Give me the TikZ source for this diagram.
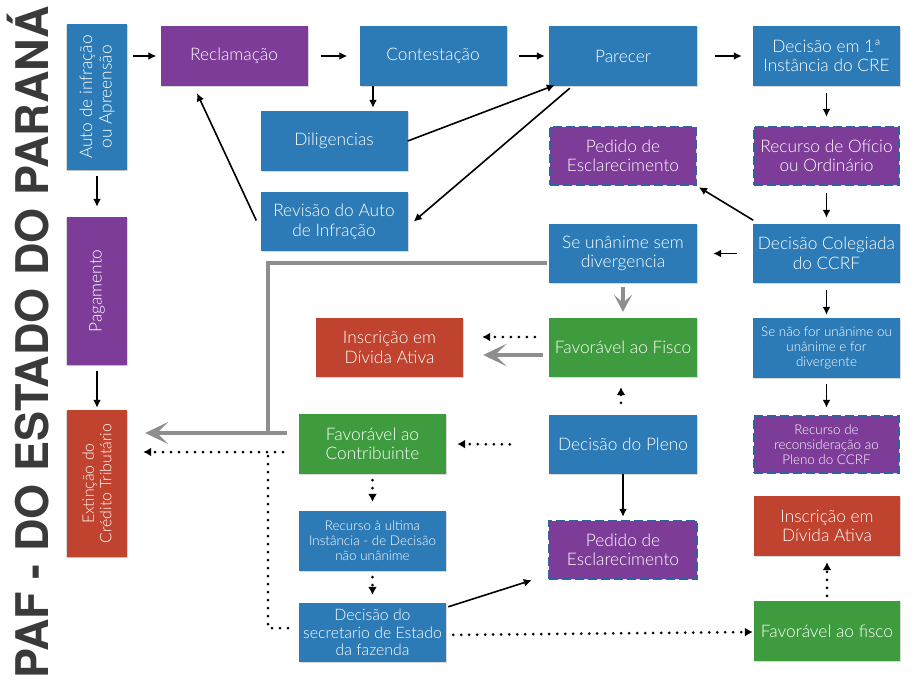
\documentclass[tikz,border=0pt]{standalone}
\usepackage{fontspec}
\setmainfont{Lato Light}
\newfontfamily\titlefont{TeX Gyre Heros}
\usetikzlibrary{arrows.meta,shadows}
\definecolor{bblue}{HTML}{2D7BB6}
\definecolor{bpurple}{HTML}{7D3C98}
\definecolor{bgreen}{HTML}{3E9B3E}
\definecolor{bred}{HTML}{C0432F}
\definecolor{dashblue}{HTML}{3062A0}
\definecolor{titlegray}{HTML}{3A3A3A}
\definecolor{arrgray}{HTML}{8E8E8E}
\begin{document}
\begin{tikzpicture}[x=1pt,y=-1pt,
  box/.style={draw=none,text=white,align=center,minimum width=147pt,minimum height=60pt,
    inner sep=1pt,font=\fontsize{17.3}{19.5}\selectfont,
    drop shadow={shadow xshift=1pt,shadow yshift=-1.2pt,opacity=0.3}},
  vbox/.style={box,rotate=90,minimum height=60pt,
    drop shadow={shadow xshift=-1.2pt,shadow yshift=-1pt,opacity=0.3}},
  bluebox/.style={box,fill=bblue},
  purplebox/.style={box,fill=bpurple},
  greenbox/.style={box,fill=bgreen},
  redbox/.style={box,fill=bred},
  dashbox/.style={box,fill=bpurple,draw=dashblue,line width=2.4pt,dash pattern=on 9pt off 4pt},
  small/.style={font=\fontsize{13.4}{15}\selectfont},
  mid/.style={font=\fontsize{15.8}{17.5}\selectfont},
  arr/.style={-{Latex[length=8pt,width=8pt]},line width=1.6pt},
  dotarr/.style={-{Latex[length=8pt,width=9pt]},line width=3pt,line cap=round,dash pattern=on 0pt off 8pt},
  dotline/.style={line width=3pt,line cap=round,dash pattern=on 0pt off 8pt},
  grayarr/.style={-{Stealth[length=23pt,width=22pt,inset=11pt]},line width=4pt,draw=arrgray},
  grayline/.style={line width=4pt,draw=arrgray}]
\useasboundingbox (0,0) rectangle (914,688);

\node[rotate=90,anchor=base west,inner sep=0pt,text=titlegray,
  font=\titlefont\bfseries\fontsize{45}{45}\selectfont] (title) at (48,679) {PAF - DO ESTADO DO PARANÁ};

% nodes
\node[vbox,fill=bblue,minimum width=146pt] (auto) at (97,97) {Auto de infração\\ou Apreensão};
\node[purplebox] (recl) at (234,56) {Reclamação};
\node[bluebox] (cont) at (433,56) {Contestação};
\node[bluebox,minimum width=148pt] (par) at (623,56) {Parecer};
\node[bluebox] (dec1) at (826.5,56) {Decisão em 1ª\\Instância do CRE};
\node[bluebox] (dil) at (334,141) {Diligencias};
\node[bluebox,minimum height=59pt] (rev) at (334,221.5) {Revisão do Auto\\de Infração};
\node[dashbox,minimum width=146pt,minimum height=58pt] (ped1) at (623,156) {Pedido de\\Esclarecimento};
\node[dashbox,minimum width=145pt,minimum height=58pt] (rof) at (826.5,156) {Recurso de Ofício\\ou Ordinário};
\node[bluebox,minimum width=148pt,minimum height=59pt] (seun) at (623,253.5) {Se unânime sem\\divergencia};
\node[bluebox,minimum height=59pt] (dcol) at (826.5,253.5) {Decisão Colegiada\\do CCRF};
\node[vbox,fill=bpurple,minimum width=148pt] (pag) at (97,291) {Pagamento};
\node[vbox,fill=bred,minimum width=147pt,mid] (ext) at (97,483.5) {Extinção do\\Crédito Tributário};
\node[redbox,minimum height=59pt] (insL) at (389.5,347.5) {Inscrição em\\Dívida Ativa};
\node[greenbox,minimum width=148pt,minimum height=59pt] (fisco) at (623,347.5) {Favorável ao Fisco};
\node[bluebox,small] (senao) at (826.5,348) {Se não for unânime ou\\unânime e for\\divergente};
\node[greenbox] (favc) at (372.5,444) {Favorável ao\\Contribuinte};
\node[bluebox,minimum width=148pt,minimum height=59pt] (pleno) at (623,444.5) {Decisão do Pleno};
\node[dashbox,small,minimum width=145pt,minimum height=57pt] (rrec) at (826.5,444.5) {Recurso de\\reconsideração ao\\Pleno do CCRF};
\node[bluebox,small] (rult) at (372.5,541) {Recurso à ultima\\Instância - de Decisão\\não unânime};
\node[dashbox,minimum width=148pt,minimum height=58pt] (ped2) at (623,550) {Pedido de\\Esclarecimento};
\node[redbox,minimum width=146pt] (insR) at (827,526) {Inscrição em\\Dívida Ativa};
\node[bluebox,mid,minimum height=59pt] (sec) at (372.5,632.5) {Decisão do\\secretario de Estado\\da fazenda};
\node[greenbox,minimum width=146pt] (fisco2) at (827,631) {Favorável ao fisco};

% solid arrows
\draw[arr,shorten <=6pt,shorten >=4pt] (auto.south |- recl) -- (recl.west);
\draw[arr,shorten <=13pt,shorten >=12pt] (recl.east) -- (cont.west);
\draw[arr,shorten <=12pt,shorten >=4pt] (cont.east) -- (par.west);
\draw[arr,shorten <=18pt,shorten >=11pt] (par.east) -- (dec1.west);
\draw[arr,shorten >=3pt] ([xshift=-60pt]cont.south) -- ([xshift=-60pt]cont.south |- dil.north);
\draw[arr] (dil.east) -- ([shift={(6,-1)}]par.south west);
\draw[arr] ([shift={(21,2)}]par.south west) -- ([xshift=6pt]rev.east);
\draw[arr] ([shift={(-4,-1)}]rev.west) -- ([shift={(-37,7)}]recl.south);
\draw[arr,shorten <=7pt,shorten >=9pt] (dec1.south) -- (rof.north);
\draw[arr,shorten <=7pt,shorten >=6pt] (rof.south) -- (dcol.north);
\draw[arr,shorten <=3pt,shorten >=2pt] ([shift={(3,-2)}]dcol.north west) -- (ped1.south east);
\draw[arr,shorten <=16pt,shorten >=16pt] (dcol.west) -- (seun.east);
\draw[arr,shorten <=7pt,shorten >=3pt] (dcol.south) -- (senao.north);
\draw[arr,shorten <=6pt,shorten >=7pt] (senao.south) -- (rrec.north);
\draw[arr,shorten <=6pt,shorten >=10pt] (auto.west) -- (pag.east);
\draw[arr,shorten <=6pt,shorten >=2pt] (pag.west) -- (ext.east);
\draw[arr,shorten >=3pt] (pleno.south) -- (ped2.north);
\draw[arr] ([shift={(2,4)}]sec.north east) -- ([xshift=-16pt]ped2.south west);

% gray arrows
\draw[grayarr,-{Stealth[length=17pt,width=18pt,inset=8pt]},shorten <=4pt,shorten >=6pt] (seun.south) -- (fisco.north);
\coordinate (gj) at (268,433);
\coordinate (gs) at (287,433);
\draw[grayline] ([shift={(-2,9)}]seun.west) -| (gj);
\draw[grayarr,shorten >=18pt] (gs) -- (ext.south |- gs);
\draw[grayarr,shorten >=20pt] ([shift={(-6,7.5)}]fisco.west) -- ([yshift=-7.5pt]insL.east);

% dotted arrows
\draw[dotarr,shorten <=14pt,shorten >=19pt] ([yshift=10.5pt]fisco.west) -- ([yshift=10.5pt]insL.east);
\draw[dotarr,shorten <=12pt,shorten >=10pt] ([xshift=-2pt]pleno.north) -- ([xshift=-2pt]fisco.south);
\draw[dotarr,shorten <=39pt,shorten >=11pt] (pleno.west) -- (favc.east);
\coordinate (ds) at (283,452);
\coordinate (dj) at (268,452);
\coordinate (db) at (288,628);
\draw[dotarr,shorten >=16pt] (ds) -- (ext.south |- ds);
\draw[dotline] (db) -| (dj);
\draw[dotarr,shorten <=6pt,shorten >=9pt] (favc.south) -- (rult.north);
\draw[dotarr,shorten <=6pt,shorten >=8pt] (rult.south) -- (sec.north);
\draw[dotarr,shorten <=7pt,shorten >=1pt] ([yshift=-2.5pt]sec.east) -- ([yshift=-1pt]fisco2.west);
\draw[dotarr,shorten <=5pt,shorten >=6pt] (fisco2.north) -- (insR.south);
\end{tikzpicture}
\end{document}
